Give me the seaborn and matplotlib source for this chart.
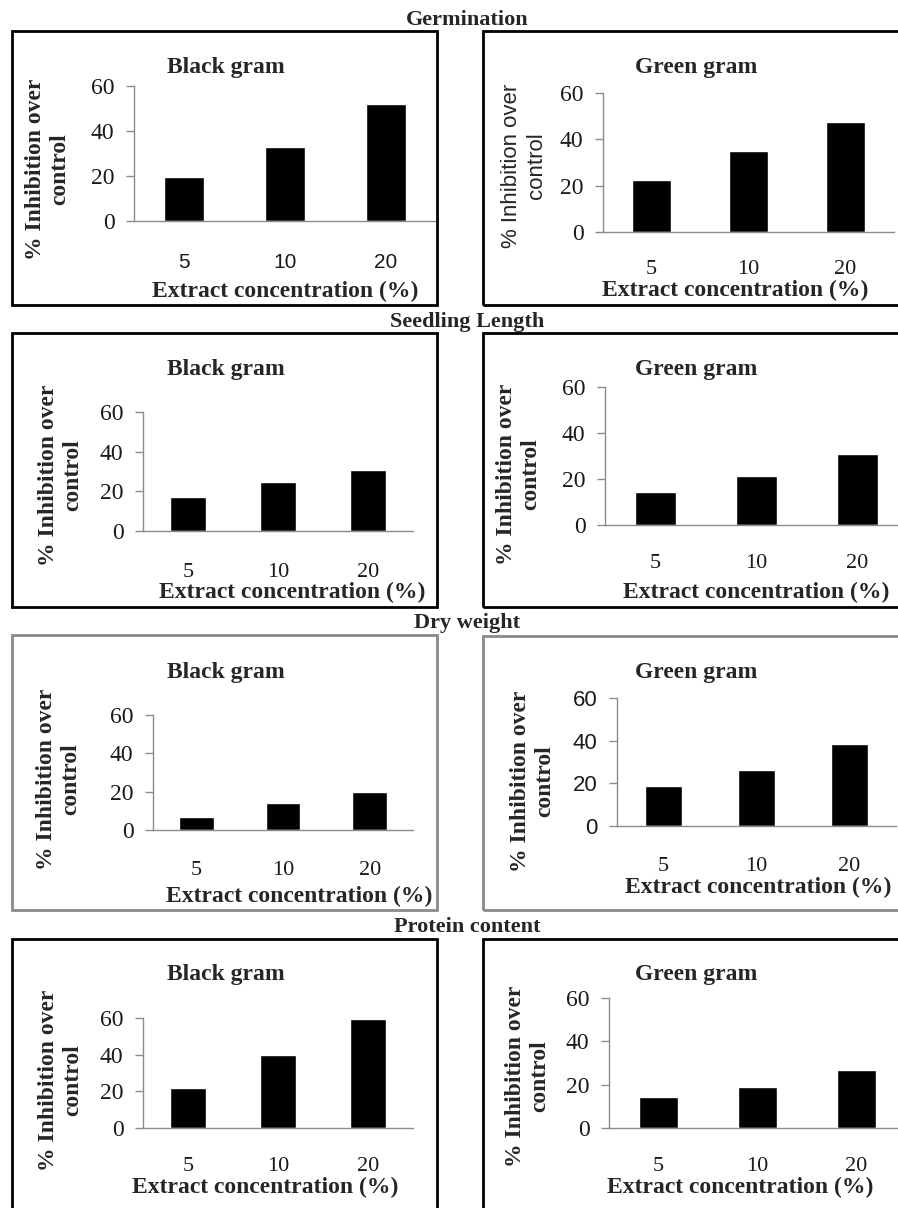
import matplotlib
matplotlib.use("Agg")
import matplotlib.pyplot as plt
import pandas as pd
import seaborn as sns
from matplotlib.patches import Rectangle

# data (% inhibition over control)
concentrations = ["5", "10", "20"]
sections = ["Germination", "Seedling Length", "Dry weight", "Protein content"]
crops = ["Black gram", "Green gram"]
yticks = [0, 20, 40, 60]

germination_black = [19.6, 33.0, 52.2]
germination_green = [22.4, 35.0, 47.5]
seedling_black = [17.1, 24.7, 30.8]
seedling_green = [14.3, 21.3, 30.9]
dryweight_black = [6.8, 14.1, 19.8]
dryweight_green = [18.8, 26.3, 38.4]
protein_black = [21.8, 39.8, 59.5]
protein_green = [14.3, 18.9, 26.8]

values = [germination_black, germination_green,
          seedling_black, seedling_green,
          dryweight_black, dryweight_green,
          protein_black, protein_green]

W, H = 898, 1208
SERIF = "Liberation Serif"
SANS = "Liberation Sans"

sns.set_theme(style="white")
plt.rcParams["font.family"] = [SERIF, "DejaVu Serif"]

# layout in pixels: axis left x, category spacing, y of 0, y of 60
axes_px = [(134, 100.7, 221, 86), (603, 97, 232, 93),
           (143, 90, 531, 412), (605, 101, 525, 387),
           (153, 86.7, 830, 715), (617, 93, 826, 698),
           (143, 90, 1128, 1018), (609, 99, 1128, 998)]
boxes_px = [(12, 31, 437, 305), (483, 31, 910, 305),
            (12, 333, 437, 607), (483, 333, 910, 607),
            (12, 635, 437, 910), (483, 636, 910, 910),
            (12, 939, 437, 1215), (483, 939, 910, 1215)]
box_colors = ["black", "black", "black", "black", "#8a8a8a", "#8a8a8a", "black", "black"]
title_px = [(226, 73), (696, 73), (226, 375), (696, 375),
            (226, 678), (696, 678), (226, 980), (696, 980)]
ylabel_px = [(48, 169), (524, 166), (61, 475), (519, 474),
             (59, 779), (533, 781), (61, 1080), (528, 1076)]
xlabel_px = [(285, 297), (735, 296), (292, 598), (756, 598),
             (299, 902), (758, 893), (265, 1193), (740, 1193)]
xtick_pad = [17, 14, 17, 15, 16, 16, 15, 15]
ylabel_font = [SERIF, SANS, SERIF, SERIF, SERIF, SERIF, SERIF, SERIF]
ytick_font = [SERIF, SERIF, SERIF, SERIF, SERIF, SANS, SERIF, SERIF]
xtick_font = [SANS, SERIF, SERIF, SERIF, SERIF, SERIF, SERIF, SERIF]
section_px = [(467, 25), (467, 327), (467, 628), (467, 932)]

fig = plt.figure(figsize=(W / 100, H / 100), dpi=100)
fig.patch.set_facecolor("white")

for name, (sx, sy) in zip(sections, section_px):
    fig.text(sx / W, 1 - sy / H, name, ha="center", va="baseline",
             fontsize=16, fontweight="bold", fontfamily=SERIF)

for i, vals in enumerate(values):
    x0, sp, y0, y60 = axes_px[i]
    ax = fig.add_axes([x0 / W, 1 - y0 / H, 3 * sp / W, (y0 - y60) / H])
    df = pd.DataFrame({"conc": concentrations, "inhibition": vals})
    sns.barplot(data=df, x="conc", y="inhibition", color="black",
                saturation=1, width=0.4, ax=ax)
    ax.set_xlim(-0.5, 2.5)
    ax.set_ylim(0, 60)
    ax.set_yticks(yticks)
    ax.set_xlabel("")
    ax.set_ylabel("")
    ax.set_facecolor("none")
    for s in ["top", "right"]:
        ax.spines[s].set_visible(False)
    for s in ["left", "bottom"]:
        ax.spines[s].set_color("#8c8c8c")
        ax.spines[s].set_linewidth(1.0)
    ax.tick_params(axis="y", left=True, length=6, width=1.0, color="#8c8c8c",
                   pad=8, labelsize=17 if ytick_font[i] == SERIF else 16,
                   labelcolor="#1a1a1a")
    ax.tick_params(axis="x", bottom=False, pad=xtick_pad[i],
                   labelsize=16 if xtick_font[i] == SERIF else 15,
                   labelcolor="#1a1a1a")
    for lab in ax.get_yticklabels():
        lab.set_fontfamily(ytick_font[i])
    for lab in ax.get_xticklabels():
        lab.set_fontfamily(xtick_font[i])

    bx0, by0, bx1, by1 = boxes_px[i]
    fig.add_artist(Rectangle((bx0 / W, 1 - by1 / H), (bx1 - bx0) / W, (by1 - by0) / H,
                             transform=fig.transFigure, fill=False,
                             edgecolor=box_colors[i], linewidth=2))

    tx, ty = title_px[i]
    fig.text(tx / W, 1 - ty / H, crops[i % 2], ha="center", va="baseline",
             fontsize=17, fontweight="bold", fontfamily=SERIF)

    lx, ly = ylabel_px[i]
    if ylabel_font[i] == SERIF:
        fig.text(lx / W, 1 - ly / H, "% Inhibition over\ncontrol", rotation=90,
                 ha="center", va="center", multialignment="center",
                 fontsize=17, fontweight="bold", fontfamily=SERIF, linespacing=1.2)
    else:
        fig.text(lx / W, 1 - ly / H, "% Inhibition over\ncontrol", rotation=90,
                 ha="center", va="center", multialignment="center",
                 fontsize=16, fontfamily=SANS, linespacing=1.25)

    xx, xy = xlabel_px[i]
    fig.text(xx / W, 1 - xy / H, "Extract concentration (%)", ha="center", va="baseline",
             fontsize=17, fontweight="bold", fontfamily=SERIF)

fig.savefig("out.png", dpi=100, facecolor="white")
